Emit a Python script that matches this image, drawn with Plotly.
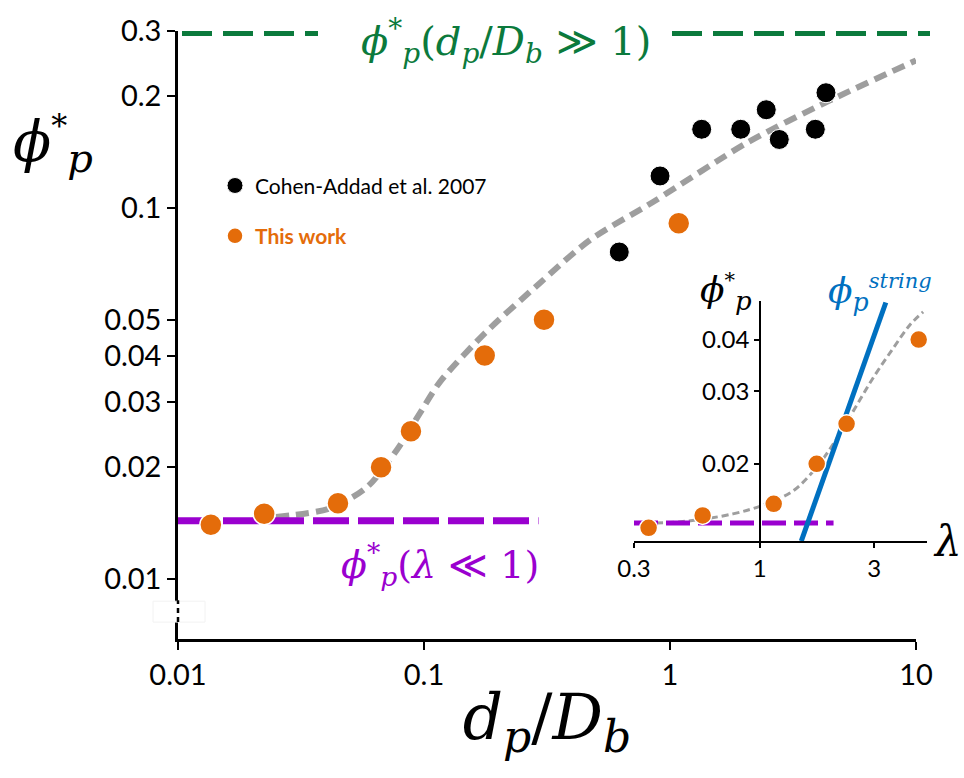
import plotly.graph_objects as go

# ---- main panel data: critical particle fraction vs size ratio ----
cohen_x = [0.622, 0.911, 1.345, 1.938, 2.462, 2.781, 3.897, 4.306]
cohen_y = [0.0761, 0.122, 0.163, 0.163, 0.184, 0.153, 0.163, 0.2045]

work_x = [0.0136, 0.0224, 0.0447, 0.0669, 0.0885, 0.1765, 0.3075, 1.085]
work_y = [0.014, 0.015, 0.016, 0.020, 0.025, 0.040, 0.050, 0.091]

fit_x = [0.025, 0.0415, 0.0587, 0.0777, 0.0963, 0.1162, 0.177, 0.296, 0.473, 0.853, 2.06, 4.47, 10.0]
fit_y = [0.0147, 0.0155, 0.0177, 0.0223, 0.0280, 0.0340, 0.0460, 0.0628, 0.082, 0.1038, 0.150, 0.195, 0.250]

large_limit_y = 0.2965          # phi*(d_p/D_b >> 1)
small_limit_y = 0.01436         # phi*(lambda << 1)
small_limit_x = [0.01, 0.292]

main_yticks = [0.01, 0.02, 0.03, 0.04, 0.05, 0.1, 0.2, 0.3]
main_xticks = [0.01, 0.1, 1, 10]

# ---- inset data: phi* vs lambda ----
lam_x = [0.345, 0.579, 1.144, 1.727, 2.30, 4.59]
lam_y = [0.014, 0.015, 0.016, 0.020, 0.025, 0.040]

lam_fit_x = [0.30, 0.479, 0.774, 1.066, 1.377, 1.722, 2.020, 2.448, 2.965, 3.592, 4.217, 4.79]
lam_fit_y = [0.01435, 0.0145, 0.01513, 0.0160, 0.0172, 0.0196, 0.0223, 0.0268, 0.0323, 0.0381, 0.0434, 0.0467]

string_x = [1.49, 3.35]
string_y = [0.0130, 0.0492]

lam_small_y = 0.01438
lam_small_x = [0.30, 2.03]

inset_xticks = [0.3, 1, 3]
inset_yticks = [0.02, 0.03, 0.04]

ORANGE = "#E46C0A"
GREEN = "#0B7A3C"
PURPLE = "#9A00CF"
BLUE = "#0070C0"
GRAY = "#9E9E9E"
MATH = "DejaVu Serif, Liberation Serif, serif"
SANS = "Lato, Open Sans, sans-serif"

# page-pixel -> paper helpers for free-standing labels
L, R, T, B = 178, 30, 28, 139
W, H = 964, 778
PW, PH = W - L - R, H - T - B


def PX(x):
    return (x - L) / PW


def PY(y):
    return (H - B - y) / PH


fig = go.Figure()

# fitted curve
fig.add_trace(go.Scatter(x=fit_x, y=fit_y, mode="lines", line_shape="spline",
                         line=dict(color=GRAY, width=6, dash="13px,7px", smoothing=0.8),
                         showlegend=False, hoverinfo="skip"))
# small-lambda plateau
fig.add_trace(go.Scatter(x=small_limit_x, y=[small_limit_y] * 2, mode="lines",
                         line=dict(color=PURPLE, width=7, dash="36px,9px"),
                         showlegend=False, hoverinfo="skip"))
# data
fig.add_trace(go.Scatter(x=cohen_x, y=cohen_y, mode="markers", name="Cohen-Addad et al. 2007",
                         legendgroup="a",
                         marker=dict(color="black", size=20, line=dict(color="white", width=1))))
fig.add_trace(go.Scatter(x=work_x, y=work_y, mode="markers",
                         name="<span style='color:%s'><b>This work</b></span>" % ORANGE,
                         legendgroup="b",
                         marker=dict(color=ORANGE, size=22, line=dict(color="white", width=1.5))))

# inset
fig.add_trace(go.Scatter(x=lam_fit_x, y=lam_fit_y, mode="lines", line_shape="spline",
                         line=dict(color=GRAY, width=3, dash="7px,4px"),
                         xaxis="x2", yaxis="y2", showlegend=False, hoverinfo="skip"))
fig.add_trace(go.Scatter(x=lam_small_x, y=[lam_small_y] * 2, mode="lines",
                         line=dict(color=PURPLE, width=5, dash="24px,8px"),
                         xaxis="x2", yaxis="y2", showlegend=False, hoverinfo="skip"))
fig.add_trace(go.Scatter(x=string_x, y=string_y, mode="lines",
                         line=dict(color=BLUE, width=5),
                         xaxis="x2", yaxis="y2", showlegend=False, hoverinfo="skip"))
fig.add_trace(go.Scatter(x=lam_x, y=lam_y, mode="markers",
                         marker=dict(color=ORANGE, size=18, line=dict(color="white", width=1.5)),
                         xaxis="x2", yaxis="y2", showlegend=False))

# large-size-ratio limit, split around its label
for x0, x1 in [(182, 318), (672, 930)]:
    fig.add_shape(type="line", xref="paper", yref="y", x0=PX(x0), x1=PX(x1),
                  y0=large_limit_y, y1=large_limit_y,
                  line=dict(color=GREEN, width=6, dash="30px,11px"))

# broken y axis marker
fig.add_shape(type="rect", xref="paper", yref="paper", x0=PX(153), x1=PX(205),
              y0=PY(622), y1=PY(601), fillcolor="white", line=dict(color="#F2F2F2", width=1),
              layer="above")
fig.add_shape(type="line", xref="paper", yref="paper", x0=PX(178), x1=PX(178),
              y0=PY(622), y1=PY(600), line=dict(color="black", width=2.5, dash="5px,4px"),
              layer="above")

ann = []


def text(x, y, s, size, color="black", family=MATH, xanchor="center", yanchor="middle",
         align="center"):
    ann.append(dict(x=PX(x), y=PY(y), xref="paper", yref="paper", text=s, showarrow=False,
                    font=dict(size=size, color=color, family=family), align=align,
                    xanchor=xanchor, yanchor=yanchor, borderpad=0))


def phi_star_p(sstar, sp):
    # phi with star superscript and p subscript
    return ("<i>ϕ</i><sup><span style='font-size:%dpx'>*</span></sup>"
            "<sub><span style='font-size:%dpx'><i>p</i></span></sub>" % (sstar, sp))


# y title
text(12, 142, phi_star_p(32, 40), 56, xanchor="left")
# inset y title
text(699, 290, phi_star_p(21, 26), 36, xanchor="left")
# string scaling label
text(880, 291, "<i>ϕ</i><sub><i>p</i></sub><sup><span style='font-size:21px'><i>string</i></span></sup>",
     36, BLUE)
# lambda axis label
text(947, 541, "<i>λ</i>", 42)
# limit labels
text(506, 38, "<i>ϕ</i><sup>*</sup><sub><i>p</i></sub>(<i>d</i><sub><i>p</i></sub>/<i>D</i><sub><i>b</i></sub> ≫ 1)", 40, GREEN)
text(440, 564, "<i>ϕ</i><sup>*</sup><sub><i>p</i></sub>(<i>λ</i> ≪ 1)", 38, PURPLE)

fig.update_layout(
    width=W, height=H,
    margin=dict(l=L, r=R, t=T, b=B),
    paper_bgcolor="white", plot_bgcolor="white",
    font=dict(family=SANS, color="black"),
    annotations=ann,
    showlegend=True,
    legend=dict(x=PX(215), y=PY(163), xanchor="left", yanchor="top",
                font=dict(size=21, family=SANS, color="black"),
                bgcolor="rgba(0,0,0,0)", itemsizing="trace", tracegroupgap=20,
                itemwidth=30),
    xaxis=dict(type="log", range=[-2, 1], domain=[0, (916 - L) / PW],
               tickvals=main_xticks, ticktext=["0.01", "0.1", "1", "10"],
               showgrid=False, zeroline=False, showline=True, linecolor="black", linewidth=2.5,
               ticks="outside", ticklen=8, tickwidth=2, tickcolor="black",
               tickfont=dict(size=29, family=SANS),
               title=dict(text="<i>d</i><sub><i>p</i></sub>/<i>D</i><sub><i>b</i></sub>",
                          font=dict(size=63, family=MATH), standoff=6)),
    yaxis=dict(type="log", range=[-2.1618, -0.5229],
               tickvals=main_yticks, ticktext=[str(v) for v in main_yticks],
               showgrid=False, zeroline=False, showline=True, linecolor="black", linewidth=2.5,
               ticks="outside", ticklen=8, tickwidth=2, tickcolor="black",
               tickfont=dict(size=29, family=SANS)),
    xaxis2=dict(type="log", range=[-0.5229, 0.6964], domain=[PX(634), PX(927)], anchor="y2",
                tickvals=inset_xticks, ticktext=["0.3", "1", "3"],
                showgrid=False, zeroline=False, showline=True, linecolor="black", linewidth=1.5,
                ticks="outside", ticklen=5, tickwidth=1.5, tickcolor="black",
                tickfont=dict(size=24, family=SANS)),
    yaxis2=dict(type="log", range=[-1.887, -1.3036], domain=[PY(541), PY(299)],
                anchor="free", position=PX(760),
                tickvals=inset_yticks, ticktext=["0.02", "0.03", "0.04"],
                showgrid=False, zeroline=False, showline=True, linecolor="black", linewidth=1.5,
                ticks="outside", ticklen=5, tickwidth=1.5, tickcolor="black",
                tickfont=dict(size=24, family=SANS)),
)

fig.write_html("out.html")
